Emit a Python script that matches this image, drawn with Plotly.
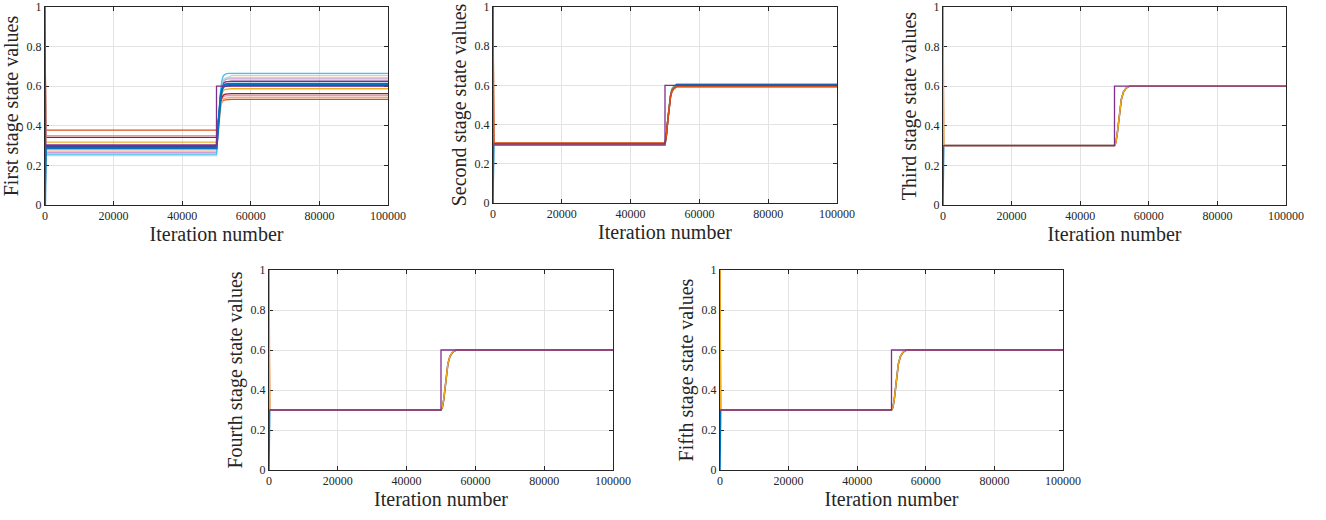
import plotly.graph_objects as go

# ---------------- data ----------------
iters = [0, 200, 50000, 50400, 50800, 51200, 51600, 52000, 52600, 53400, 54400, 100000]
ref_iters = [0, 50000, 50000, 100000]
ref_vals = [0.3, 0.3, 0.6, 0.6]

x_ticks = [0, 20000, 40000, 60000, 80000, 100000]
x_tick_text = ["0", "20000", "40000", "60000", "80000", "100000"]
y_ticks = [0, 0.2, 0.4, 0.6, 0.8, 1.0]
y_tick_text = ["0", "0.2", "0.4", "0.6", "0.8", "1"]

y_titles = ["First stage state values", "Second stage state values",
            "Third stage state values", "Fourth stage state values",
            "Fifth stage state values"]
x_title = "Iteration number"

# Panel 1: first stage states
p1_red = [1.0, 0.378, 0.378, 0.425, 0.471, 0.502, 0.521, 0.528, 0.531, 0.533, 0.533, 0.533]
p1_pink = [1.0, 0.350, 0.350, 0.411, 0.472, 0.512, 0.537, 0.547, 0.551, 0.553, 0.553, 0.553]
p1_maroon = [1.0, 0.342, 0.342, 0.408, 0.474, 0.518, 0.544, 0.555, 0.560, 0.562, 0.562, 0.562]
p1_yellow = [1.0, 0.318, 0.318, 0.399, 0.479, 0.533, 0.565, 0.579, 0.584, 0.587, 0.587, 0.587]
p1_purple = [1.0, 0.303, 0.303, 0.400, 0.496, 0.561, 0.599, 0.615, 0.622, 0.625, 0.625, 0.625]
p1_dblue = [0.0, 0.295, 0.295, 0.387, 0.480, 0.541, 0.578, 0.594, 0.600, 0.603, 0.603, 0.603]
p1_blue = [0.0, 0.287, 0.287, 0.385, 0.482, 0.547, 0.586, 0.602, 0.609, 0.612, 0.612, 0.612]
p1_lorange = [1.0, 0.278, 0.278, 0.358, 0.437, 0.490, 0.522, 0.535, 0.540, 0.543, 0.543, 0.543]
p1_lpurple = [1.0, 0.265, 0.265, 0.376, 0.487, 0.561, 0.605, 0.624, 0.633, 0.637, 0.637, 0.637]
p1_lyellow = [1.0, 0.270, 0.270, 0.383, 0.495, 0.570, 0.615, 0.634, 0.641, 0.645, 0.645, 0.645]
p1_lblue = [0.0, 0.257, 0.257, 0.379, 0.502, 0.583, 0.632, 0.653, 0.661, 0.665, 0.665, 0.665]
p1_pblue = [0.0, 0.250, 0.250, 0.368, 0.486, 0.565, 0.612, 0.632, 0.640, 0.644, 0.655, 0.655]

# Panel 2: second stage states
p2_lblue = [0.0, 0.295, 0.295, 0.342, 0.420, 0.498, 0.551, 0.582, 0.597, 0.607, 0.607, 0.607]
p2_blue = [0.0, 0.297, 0.297, 0.343, 0.419, 0.495, 0.546, 0.576, 0.591, 0.603, 0.603, 0.603]
p2_yellow = [1.0, 0.300, 0.300, 0.345, 0.419, 0.494, 0.544, 0.573, 0.588, 0.598, 0.598, 0.598]
p2_maroon = [1.0, 0.303, 0.303, 0.347, 0.420, 0.493, 0.542, 0.570, 0.585, 0.595, 0.595, 0.595]
p2_red = [1.0, 0.306, 0.306, 0.349, 0.421, 0.493, 0.540, 0.568, 0.583, 0.593, 0.593, 0.593]

# Panels 3-5: third, fourth, fifth stage states
p3_blue = [0.0, 0.300, 0.300, 0.315, 0.360, 0.426, 0.486, 0.534, 0.570, 0.591, 0.600, 0.600]
p3_orange = [1.0, 0.300, 0.300, 0.315, 0.360, 0.426, 0.486, 0.534, 0.570, 0.591, 0.600, 0.600]
p3_yellow = [1.0, 0.300, 0.300, 0.316, 0.362, 0.428, 0.488, 0.536, 0.571, 0.592, 0.600, 0.600]

p4_blue = [0.0, 0.300, 0.300, 0.312, 0.352, 0.418, 0.480, 0.530, 0.568, 0.590, 0.600, 0.600]
p4_orange = [1.0, 0.300, 0.300, 0.312, 0.352, 0.418, 0.480, 0.530, 0.568, 0.590, 0.600, 0.600]
p4_yellow = [1.0, 0.300, 0.300, 0.313, 0.354, 0.420, 0.482, 0.532, 0.569, 0.591, 0.600, 0.600]

p5_blue = [0.0, 0.300, 0.300, 0.312, 0.352, 0.418, 0.480, 0.530, 0.568, 0.590, 0.600, 0.600]
p5_orange = [1.0, 0.300, 0.300, 0.312, 0.352, 0.418, 0.480, 0.530, 0.568, 0.590, 0.600, 0.600]
p5_yellow = [1.0, 0.300, 0.300, 0.313, 0.354, 0.420, 0.482, 0.532, 0.569, 0.591, 0.600, 0.600]

# ---------------- styles ----------------
C_BLUE = "#0072BD"
C_DBLUE = "#1F4E9A"
C_RED = "#D95319"
C_YELLOW = "#EDB120"
C_PURPLE = "#7E2F8E"
C_LBLUE = "#4DBEEE"
C_MAROON = "#A2142F"
C_PINK = "#D9A0AA"
C_LORANGE = "#F2A77E"
C_LYELLOW = "#F6CF7E"
C_LPURPLE = "#C8A2D2"
C_PBLUE = "#A6DCF4"

panels = [
    [(p1_red, C_RED, 1.3), (p1_pink, C_PINK, 1.3), (p1_maroon, C_MAROON, 1.3),
     (p1_yellow, C_YELLOW, 1.3), (p1_lorange, C_LORANGE, 1.3), (p1_lyellow, C_LYELLOW, 1.3),
     (p1_lpurple, C_LPURPLE, 1.3), (p1_purple, C_PURPLE, 1.3), (p1_pblue, C_PBLUE, 1.3),
     (p1_lblue, C_LBLUE, 1.3), (p1_dblue, C_DBLUE, 1.5), (p1_blue, C_BLUE, 2.2)],
    [(p2_lblue, C_LBLUE, 1.5), (p2_blue, C_BLUE, 1.5), (p2_yellow, C_YELLOW, 1.5),
     (p2_maroon, C_MAROON, 1.5), (p2_red, C_RED, 1.5)],
    [(p3_blue, C_BLUE, 1.5), (p3_orange, C_RED, 1.5), (p3_yellow, C_YELLOW, 1.2)],
    [(p4_blue, C_BLUE, 1.5), (p4_orange, C_RED, 1.5), (p4_yellow, C_YELLOW, 1.2)],
    [(p5_blue, C_BLUE, 1.5), (p5_orange, C_RED, 1.5), (p5_yellow, C_YELLOW, 1.2)],
]

W, H = 1326, 520
# pixel boxes: (left, right, top, bottom)
boxes = [(45, 388, 7, 205), (493, 837, 7, 203), (943, 1286, 7, 205),
         (269, 613, 270, 470), (720, 1063, 270, 470)]

FONT = "Liberation Serif, Times New Roman, serif"
fig = go.Figure()
layout = {}
for i, (series, box) in enumerate(zip(panels, boxes)):
    k = "" if i == 0 else str(i + 1)
    for vals, col, lw in series:
        fig.add_trace(go.Scatter(x=iters, y=vals, mode="lines",
                                 line=dict(color=col, width=lw),
                                 xaxis="x" + k, yaxis="y" + k, showlegend=False,
                                 cliponaxis=False))
    fig.add_trace(go.Scatter(x=ref_iters, y=ref_vals, mode="lines",
                             line=dict(color=C_PURPLE, width=1.3),
                             xaxis="x" + k, yaxis="y" + k, showlegend=False))
    l, r, t, b = box
    common = dict(showline=True, linecolor="#262626", linewidth=1, mirror="ticks",
                  ticks="inside", ticklen=4, tickcolor="#262626", automargin=False,
                  ticklabeloverflow="allow", layer="below traces",
                  showgrid=True, gridcolor="#E3E3E3", gridwidth=1, zeroline=False,
                  tickfont=dict(family=FONT, size=12, color="#262626"))
    layout["xaxis" + k] = dict(common, domain=[l / W, r / W], range=[0, 100000],
                               tickvals=x_ticks, ticktext=x_tick_text,
                               anchor="y" + k,
                               title=dict(text=x_title, standoff=4,
                                          font=dict(family=FONT, size=20, color="#262626")))
    layout["yaxis" + k] = dict(common, domain=[1 - b / H, 1 - t / H], range=[0, 1],
                               tickvals=y_ticks, ticktext=y_tick_text,
                               anchor="x" + k,
                               title=dict(text=y_titles[i], standoff=2,
                                          font=dict(family=FONT, size=20, color="#262626")))

fig.update_layout(width=W, height=H, margin=dict(l=0, r=0, t=0, b=0),
                  paper_bgcolor="white", plot_bgcolor="white", **layout)
fig.write_html("out.html", config={"displayModeBar": False},
               post_script="document.body.style.margin='0px';document.body.style.overflow='hidden';")
